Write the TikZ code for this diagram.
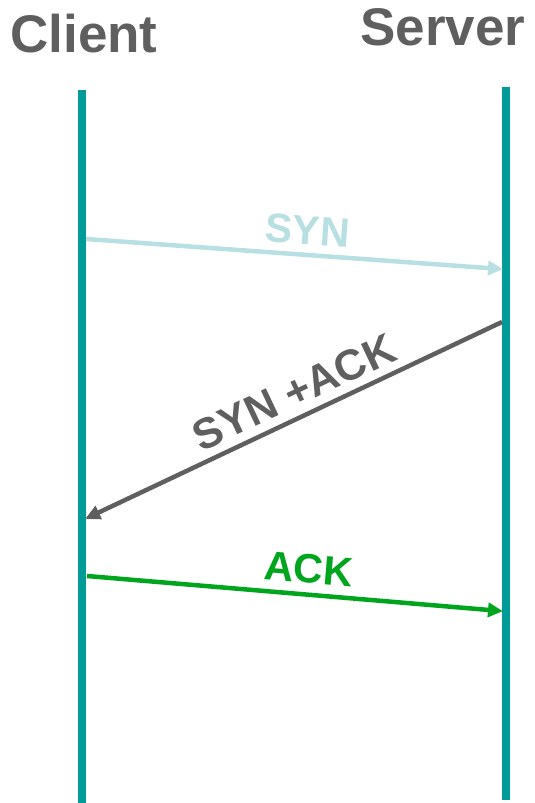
\documentclass[tikz,border=0pt]{standalone}
\usepackage{fontspec}
\setmainfont{Liberation Sans}
\usetikzlibrary{arrows.meta}
\definecolor{lifeteal}{HTML}{009B96}
\definecolor{headgray}{HTML}{5F5F5F}
\definecolor{synblue}{HTML}{B8E0E3}
\definecolor{synackgray}{HTML}{5F5F5F}
\definecolor{ackgreen}{HTML}{00A51E}
\begin{document}
\begin{tikzpicture}[x=1pt,y=1pt,
  header/.style={font=\fontsize{53}{60}\selectfont\bfseries, text=headgray, inner sep=0pt, anchor=base},
  lifeline/.style={draw=lifeteal, line width=8pt},
  msg/.style={line width=4.5pt, -{Triangle[length=15pt,width=14pt]}, shorten >=-2pt},
  msglabel/.style={font=\fontsize{41}{48}\selectfont\bfseries, sloped, anchor=south, inner sep=0pt}
]
\useasboundingbox (0,0) rectangle (535,803);

% participants
\node[header] (client) at (84,750) {Client};
\node[header] (server) at (443,757) {Server};

% lifelines
\coordinate (ctop) at (82,713);
\coordinate (cbot) at (82,0);
\coordinate (stop) at (506,716);
\coordinate (sbot) at (506,3);
\draw[lifeline] (ctop) -- (cbot);
\draw[lifeline] (stop) -- (sbot);

% handshake endpoints
\coordinate (syn1) at (86,564);
\coordinate (syn2) at (501,534);
\coordinate (sa1) at (502,481);
\coordinate (sa2) at (87,285);
\coordinate (ack1) at (87,227);
\coordinate (ack2) at (501,192);

% messages
\draw[msg, draw=synblue, fill=synblue] (syn1) -- node[msglabel, text=synblue, pos=0.53, yshift=8pt] {SYN} (syn2);
\draw[msg, draw=synackgray, fill=synackgray] (sa1) -- node[msglabel, text=synackgray, font=\fontsize{43}{50}\selectfont\bfseries, pos=0.475, yshift=8pt] {SYN +ACK} (sa2);
\draw[msg, draw=ackgreen, fill=ackgreen] (ack1) -- node[msglabel, text=ackgreen, pos=0.53, yshift=9pt] {ACK} (ack2);
\end{tikzpicture}
\end{document}
